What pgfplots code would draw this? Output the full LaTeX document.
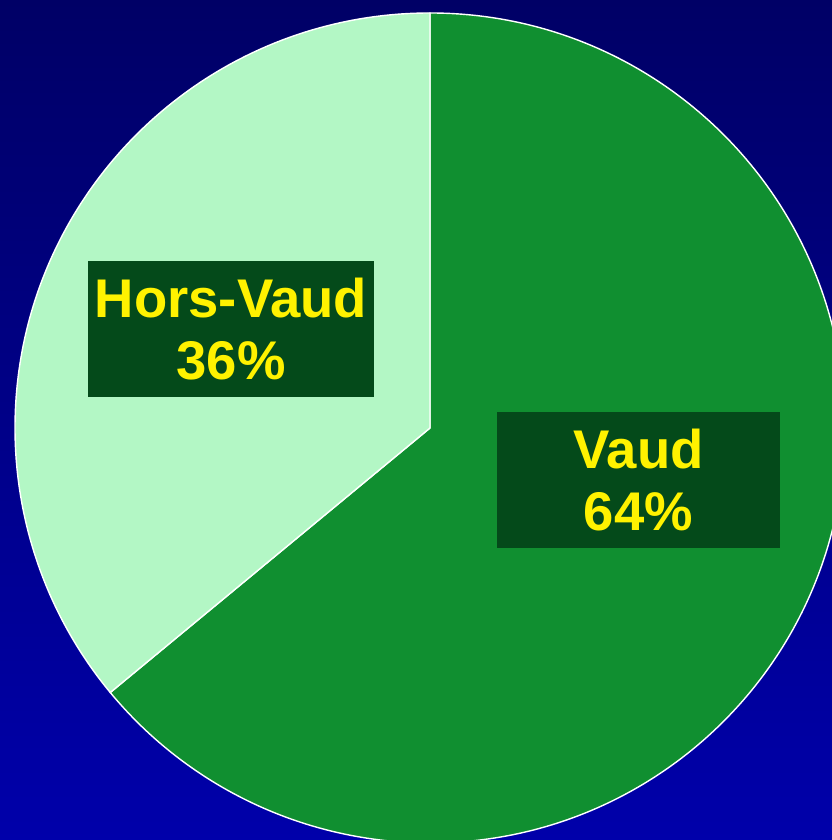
\documentclass[border=0pt]{standalone}
\usepackage{pgfplots}
\pgfplotsset{compat=1.18}
\usepackage{pgfplotstable}
\usepackage{fontspec}
\setmainfont{Liberation Sans}
\definecolor{bgtop}{RGB}{0,0,102}
\definecolor{bgbot}{RGB}{0,0,170}
\definecolor{vaudgreen}{RGB}{16,143,48}
\definecolor{horsgreen}{RGB}{179,247,197}
\definecolor{boxgreen}{RGB}{4,74,26}

% parts in percent
\pgfplotstableread{
label value
Vaud 64
Hors-Vaud 36
}\piedata

\begin{document}
\begin{tikzpicture}
\pgfplotstablegetelem{0}{value}\of\piedata \let\vaud\pgfplotsretval
\pgfplotstablegetelem{1}{value}\of\piedata \let\hors\pgfplotsretval
\pgfmathsetmacro{\avaud}{90-3.6*\vaud}
\pgfmathsetmacro{\ahors}{90+3.6*\hors}
\useasboundingbox (0,0) rectangle (16.64,16.8);
\begin{axis}[
    at={(0,0)}, anchor=south west,
    x=1cm, y=1cm,
    xmin=-8.6, xmax=8.04,
    ymin=-8.24, ymax=8.56,
    hide axis, clip=true,
]
\shade[top color=bgtop, bottom color=bgbot] (rel axis cs:0,0) rectangle (rel axis cs:1,1);
% Vaud
\filldraw[fill=vaudgreen, draw=white, line width=0.8pt]
    (axis cs:0,0) -- (axis cs:0,8.3) arc[start angle=90, end angle=\avaud, radius=8.3cm] -- cycle;
% Hors-Vaud
\filldraw[fill=horsgreen, draw=white, line width=0.8pt]
    (axis cs:0,0) -- (axis cs:0,8.3) arc[start angle=90, end angle=\ahors, radius=8.3cm] -- cycle;
\node[fill=boxgreen, text=yellow, minimum width=5.72cm, minimum height=2.72cm, align=center,
      font=\fontsize{31}{35}\selectfont\bfseries] at (axis cs:-3.98,1.98) {Hors-Vaud\\\hors\%};
\node[fill=boxgreen, text=yellow, minimum width=5.66cm, minimum height=2.72cm, align=center,
      font=\fontsize{31}{35}\selectfont\bfseries] at (axis cs:4.17,-1.04) {Vaud\\\vaud\%};
\end{axis}
\end{tikzpicture}
\end{document}
